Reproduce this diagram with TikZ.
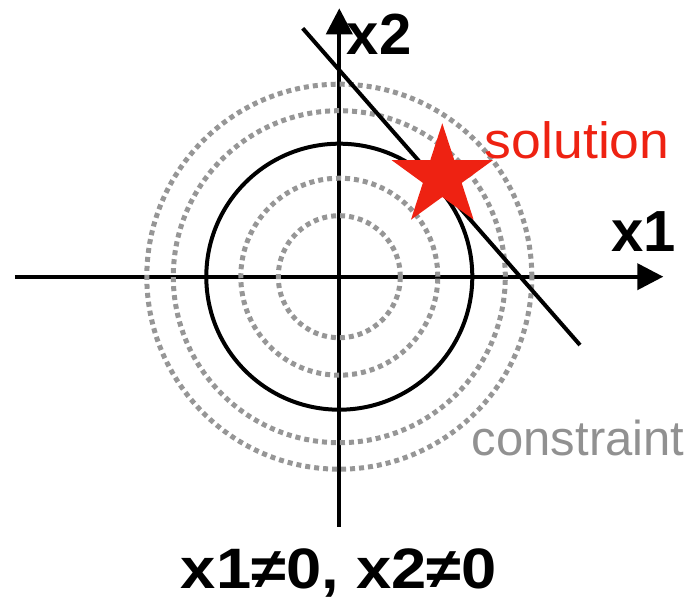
\documentclass[tikz,border=0pt]{standalone}
\usepackage{fontspec}
\setmainfont{Liberation Sans}
\usetikzlibrary{arrows.meta}
\definecolor{solred}{RGB}{238,34,18}
\definecolor{dotgray}{RGB}{150,150,150}
\definecolor{txtgray}{RGB}{145,145,145}
\begin{document}
\begin{tikzpicture}[x=1pt,y=1pt,
  axisline/.style={line width=4pt, -{Triangle[length=26pt,width=26pt]}},
  solidc/.style={line width=4pt},
  dotc/.style={dotgray, line width=5pt, dash pattern=on 5pt off 4pt},
  lbl/.style={inner sep=0pt, outer sep=0pt, anchor=base west},
  starfill/.style={fill=solred},
]
\useasboundingbox (-339.3,-323.3) rectangle (346.7,276.7);
% axes
\coordinate (O) at (0,0);
\coordinate (xa) at (-324.3,0);
\coordinate (xb) at (324,0);
\coordinate (ya) at (0,-250);
\coordinate (yb) at (0,268.4);
\draw[axisline] (xa) -- (xb);
\draw[axisline] (ya) -- (yb);
% level sets
\foreach \r in {61,98.5,166,192.5}
  \draw[dotc] (O) circle[radius=\r];
% constraint circle
\draw[solidc] (O) circle[radius=133];
% tangent line
\coordinate (L1) at (-36.6,248.4);
\coordinate (L2) at (240.7,-68.3);
\draw[solidc] (L1) -- (L2);
% star
\fill[starfill, shift={(103,100.1)}]
  (90:53.3) -- (126:20.4) -- (162:53.3) -- (198:20.4) -- (234:53.3) --
  (270:20.4) -- (306:53.3) -- (342:20.4) -- (18:53.3) -- (54:20.4) -- cycle;
% labels
\node[lbl] (tx2) at (7.7,221.7) {\fontsize{58}{60}\selectfont\bfseries x2};
\node[lbl] (tx1) at (272.4,25) {\fontsize{58}{60}\selectfont\bfseries x1};
\node[lbl, text=solred] (tsol) at (145.7,117.7) {\fontsize{51}{53}\selectfont\scalebox{1.05}[1]{solution}};
\node[lbl, text=txtgray] (tcon) at (132.7,-178.3) {\fontsize{49}{51}\selectfont constraint};
\node[lbl] (tcond) at (-158.3,-311.5) {\fontsize{57}{60}\selectfont\bfseries\scalebox{1.11}[1]{x1≠0, x2≠0}};
\end{tikzpicture}
\end{document}
